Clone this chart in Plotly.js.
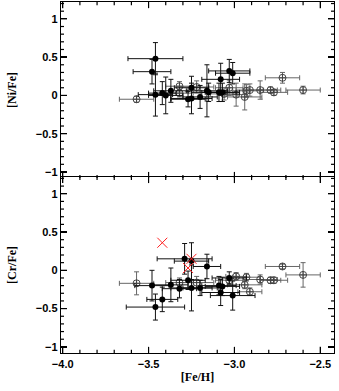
<!DOCTYPE html>
<html>
<head>
<meta charset="utf-8">
<script src="https://cdn.plot.ly/plotly-3.0.1.min.js"></script>
<style>html,body{margin:0;padding:0;background:#fff;}#chart{width:339px;height:391px;}</style>
</head>
<body>
<div id="chart"></div>
<script>
// ---- [Ni/Fe] panel ----
var niFilledFeH = [-3.46, -3.48, -3.46, -3.42, -3.40, -3.37, -3.27, -3.25, -3.25, -3.20, -3.16, -3.15, -3.08, -3.03, -3.01, -3.09, -3.07];
var niFilledVal = [0.48, 0.31, 0.01, 0.03, 0.00, 0.06, -0.05, -0.04, 0.10, -0.02, 0.06, 0.04, 0.21, 0.32, 0.29, 0.04, 0.04];
var niFilledErrX = [0.16, 0.11, 0.10, 0.08, 0.10, 0.10, 0.10, 0.12, 0.10, 0.10, 0.12, 0.10, 0.11, 0.12, 0.10, 0.10, 0.10];
var niFilledErrY = [0.21, 0.16, 0.28, 0.15, 0.24, 0.15, 0.10, 0.20, 0.15, 0.15, 0.34, 0.12, 0.21, 0.15, 0.14, 0.12, 0.12];

var niOpenFeH = [-3.57, -3.32, -3.32, -3.22, -3.06, -3.03, -2.99, -2.94, -2.93, -2.91, -2.85, -2.79, -2.77, -2.72, -2.60];
var niOpenVal = [-0.05, 0.12, 0.03, 0.11, 0.02, 0.10, 0.01, -0.02, 0.06, 0.07, 0.07, 0.07, 0.04, 0.23, 0.07];
var niOpenErrX = [0.10, 0.08, 0.08, 0.10, 0.08, 0.08, 0.06, 0.10, 0.08, 0.08, 0.10, 0.06, 0.08, 0.10, 0.10];
var niOpenErrY = [0.04, 0.06, 0.05, 0.08, 0.08, 0.10, 0.15, 0.17, 0.08, 0.08, 0.12, 0.04, 0.04, 0.07, 0.05];

// ---- [Cr/Fe] panel ----
var crFilledFeH = [-3.29, -3.25, -3.16, -3.03, -3.48, -3.37, -3.27, -3.32, -3.25, -3.20, -3.42, -3.46, -3.08, -3.01, -3.09, -3.07];
var crFilledVal = [0.15, 0.12, 0.05, -0.10, -0.20, -0.19, -0.13, -0.24, -0.23, -0.23, -0.38, -0.48, -0.29, -0.33, -0.20, -0.21];
var crFilledErrX = [0.16, 0.10, 0.08, 0.10, 0.10, 0.10, 0.10, 0.10, 0.12, 0.10, 0.09, 0.17, 0.11, 0.13, 0.10, 0.10];
var crFilledErrY = [0.20, 0.24, 0.16, 0.08, 0.20, 0.22, 0.12, 0.12, 0.30, 0.10, 0.16, 0.17, 0.17, 0.19, 0.12, 0.12];

var crOpenFeH = [-3.57, -3.32, -3.22, -3.03, -2.99, -2.94, -2.93, -2.91, -2.85, -2.79, -2.77, -2.72, -2.60];
var crOpenVal = [-0.17, -0.16, -0.16, -0.13, -0.08, -0.19, -0.09, -0.28, -0.12, -0.13, -0.13, 0.05, -0.06];
var crOpenErrX = [0.10, 0.08, 0.10, 0.08, 0.06, 0.10, 0.08, 0.07, 0.10, 0.06, 0.08, 0.10, 0.10];
var crOpenErrY = [0.15, 0.06, 0.08, 0.05, 0.05, 0.05, 0.05, 0.05, 0.06, 0.04, 0.04, 0.03, 0.16];

var crCrossFeH = [-3.42, -3.25, -3.27];
var crCrossVal = [0.36, 0.15, 0.03];

function pts(x, y, ex, ey, xa, ya, filled) {
  var c = filled ? '#111' : '#666';
  return {
    x: x, y: y, xaxis: xa, yaxis: ya, type: 'scatter', mode: 'markers',
    marker: filled ? {symbol: 'circle', size: 6, color: '#000'}
                   : {symbol: 'circle-cross-open', size: 7, color: '#444', line: {width: 1, color: '#444'}},
    error_x: {type: 'data', array: ex, visible: true, color: c, thickness: 1, width: 2.5},
    error_y: {type: 'data', array: ey, visible: true, color: c, thickness: 1, width: 2.5},
    hoverinfo: 'skip', showlegend: false
  };
}

var traces = [
  pts(niOpenFeH, niOpenVal, niOpenErrX, niOpenErrY, 'x', 'y', false),
  pts(niFilledFeH, niFilledVal, niFilledErrX, niFilledErrY, 'x', 'y', true),
  pts(crOpenFeH, crOpenVal, crOpenErrX, crOpenErrY, 'x2', 'y2', false),
  pts(crFilledFeH, crFilledVal, crFilledErrX, crFilledErrY, 'x2', 'y2', true),
  {x: crCrossFeH, y: crCrossVal, xaxis: 'x2', yaxis: 'y2', type: 'scatter', mode: 'markers',
   marker: {symbol: 'x-thin-open', size: 10, color: '#ff2020', line: {width: 1, color: '#ff2020'}},
   hoverinfo: 'skip', showlegend: false}
];

var tickFont = {family: 'Liberation Sans, Arial, sans-serif', size: 11, color: '#000', weight: 'bold'};
var titleFont = {family: 'Liberation Serif, DejaVu Serif, serif', size: 12, color: '#000', weight: 'bold'};
var xRange = [-4.01, -2.42];
var yRange = [-1.08, 1.22];
var topDom = [0.4983, 1];
var botDom = [0, 0.5017];

function xax(anchor, labels) {
  var a = {
    anchor: anchor, domain: [0, 1], range: xRange, showgrid: false, zeroline: false,
    showline: true, linecolor: '#000', linewidth: 1.3, mirror: 'ticks',
    ticks: 'inside', ticklen: 6, tickwidth: 1.3, tickcolor: '#000',
    dtick: 0.5, tick0: -4.0, tickformat: '.1f',
    showticklabels: labels, tickfont: tickFont
  };
  if (labels) a.title = {text: '[Fe/H]', font: titleFont, standoff: 4};
  return a;
}
function yax(anchor, dom, title) {
  return {
    anchor: anchor, domain: dom, range: yRange, showgrid: false, zeroline: false,
    showline: true, linecolor: '#000', linewidth: 1.3, mirror: 'ticks',
    ticks: 'inside', ticklen: 6, tickwidth: 1.3, tickcolor: '#000',
    dtick: 0.5, tick0: 0,
    tickfont: tickFont,
    title: {text: title, font: titleFont, standoff: 16}
  };
}

// frame tick marks (major every 0.5, minor every 0.1) on all four sides of each panel
var shapes = [];
function tickLine(xref, yref, x0, x1, y0, y1) {
  shapes.push({type: 'line', xref: xref, yref: yref, x0: x0, x1: x1, y0: y0, y1: y1,
               line: {color: '#000', width: 1.2}, layer: 'above'});
}
function panelTicks(xa, ya) {
  var i, v, lx, ly;
  for (i = 0; i <= 15; i++) {
    v = Math.round((-4.0 + 0.1 * i) * 10) / 10;
    ly = (i % 5 === 0) ? 0.035 : 0.018;
    tickLine(xa, ya + ' domain', v, v, 0, ly);
    tickLine(xa, ya + ' domain', v, v, 1 - ly, 1);
  }
  for (i = -10; i <= 12; i++) {
    v = Math.round(i) / 10;
    lx = (i % 5 === 0) ? 0.022 : 0.011;
    tickLine(xa + ' domain', ya, 0, lx, v, v);
    tickLine(xa + ' domain', ya, 1 - lx, 1, v, v);
  }
}
panelTicks('x', 'y');
panelTicks('x2', 'y2');

var layout = {
  width: 339, height: 391,
  margin: {l: 61, r: 5, t: 2, b: 38},
  paper_bgcolor: '#fff', plot_bgcolor: '#fff',
  showlegend: false,
  xaxis: xax('y', false),
  yaxis: yax('x', topDom, '[Ni/Fe]'),
  xaxis2: xax('y2', true),
  yaxis2: yax('x2', botDom, '[Cr/Fe]'),
  shapes: shapes
};

Plotly.newPlot('chart', traces, layout, {staticPlot: true, displayModeBar: false});
</script>
</body>
</html>
